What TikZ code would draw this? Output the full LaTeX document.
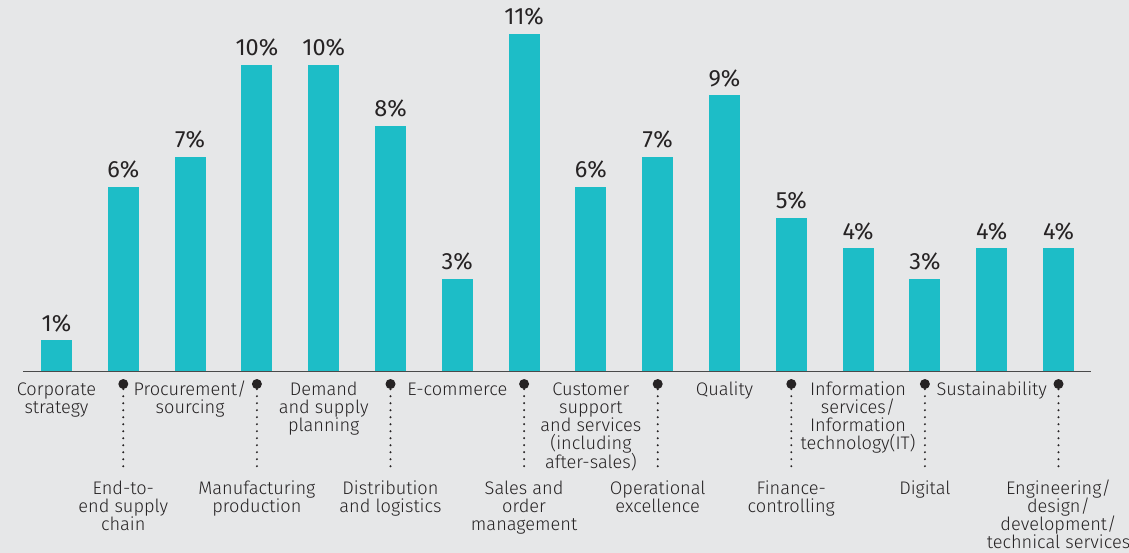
\documentclass[tikz,border=0pt]{standalone}
\usepackage{fontspec}
\setmainfont{Fira Sans}
\newfontfamily\lightfont{Fira Sans Light}
\definecolor{bgray}{HTML}{E6E7E8}
\definecolor{barteal}{HTML}{1DBDC7}
\definecolor{inkgray}{HTML}{262324}
\definecolor{axisgray}{HTML}{4A4A4A}
\newcommand\catfont{\lightfont\fontsize{18.2}{18.3}\selectfont\setlength{\lineskiplimit}{-100pt}}

\begin{document}
\begin{tikzpicture}[x=1pt,y=-1pt,
  bar/.style={fill=barteal,draw=none,inner sep=0,minimum width=31pt,anchor=south},
  pct/.style={anchor=base,inner sep=0,text=inkgray,font=\fontsize{23.5}{26}\selectfont},
  cat/.style={anchor=base,align=center,inner sep=0,text=inkgray,font=\catfont},
  pin/.style={circle,fill=inkgray,inner sep=0,minimum size=10pt},
  lead/.style={draw=inkgray,line width=2.2pt,line cap=round,dash pattern=on 0pt off 7pt}]

  \fill[bgray] (0,0) rectangle (1129,553);
  \useasboundingbox (0,0) rectangle (1129,553);

  % bars and values
  \foreach \v [count=\i] in {1,6,7,10,10,8,3,11,6,7,9,5,4,3,4,4} {
    \pgfmathsetmacro\cx{56.5+66.8*(\i-1)}
    \node[bar,minimum height=30.6*\v] (bar\i) at (\cx,371) {};
    \node[pct] (pct\i) at ([yshift=9pt]bar\i.north) {\v\%};
  }

  \coordinate (axisL) at (23,371);
  \coordinate (axisR) at (1091,371);
  \draw[axisgray,line width=1pt] (axisL) -- (axisR);

  % upper row of categories (base = last line)
  \foreach \i/\n/\txt in {1/2/{Corporate\\strategy},
      3/2/{Procurement/\\sourcing},
      5/3/{Demand\\and supply\\planning},
      7/1/{E-commerce},
      9/5/{Customer\\support\\and services\\(including\\after-sales)},
      11/1/{Quality},
      13/4/{Information\\services/\\Information\\technology(IT)},
      15/1/{Sustainability}} {
    \pgfmathsetmacro\cx{56.5+66.8*(\i-1)}
    \pgfmathsetmacro\cy{395+18.3*(\n-1)}
    \node[cat] (cat\i) at (\cx,\cy) {\txt};
  }

  % lower row of categories with leaders
  \foreach \i/\n/\txt in {2/3/{End-to-\\end supply\\chain},
      4/2/{Manufacturing\\production},
      6/2/{Distribution\\and logistics},
      8/3/{Sales and\\order\\management},
      10/2/{Operational\\excellence},
      12/2/{Finance-\\controlling},
      14/1/{Digital},
      16/4/{Engineering/\\design/\\development/\\technical services}} {
    \pgfmathsetmacro\cx{56.5+66.8*(\i-1)}
    \pgfmathsetmacro\cy{494+18.3*(\n-1)}
    \node[pin] (pin\i) at (\cx,384) {};
    \coordinate (foot\i) at (\cx,473);
    \draw[lead] (pin\i) -- (foot\i);
    \node[cat] (cat\i) at (\cx,\cy) {\txt};
  }

\end{tikzpicture}
\end{document}
